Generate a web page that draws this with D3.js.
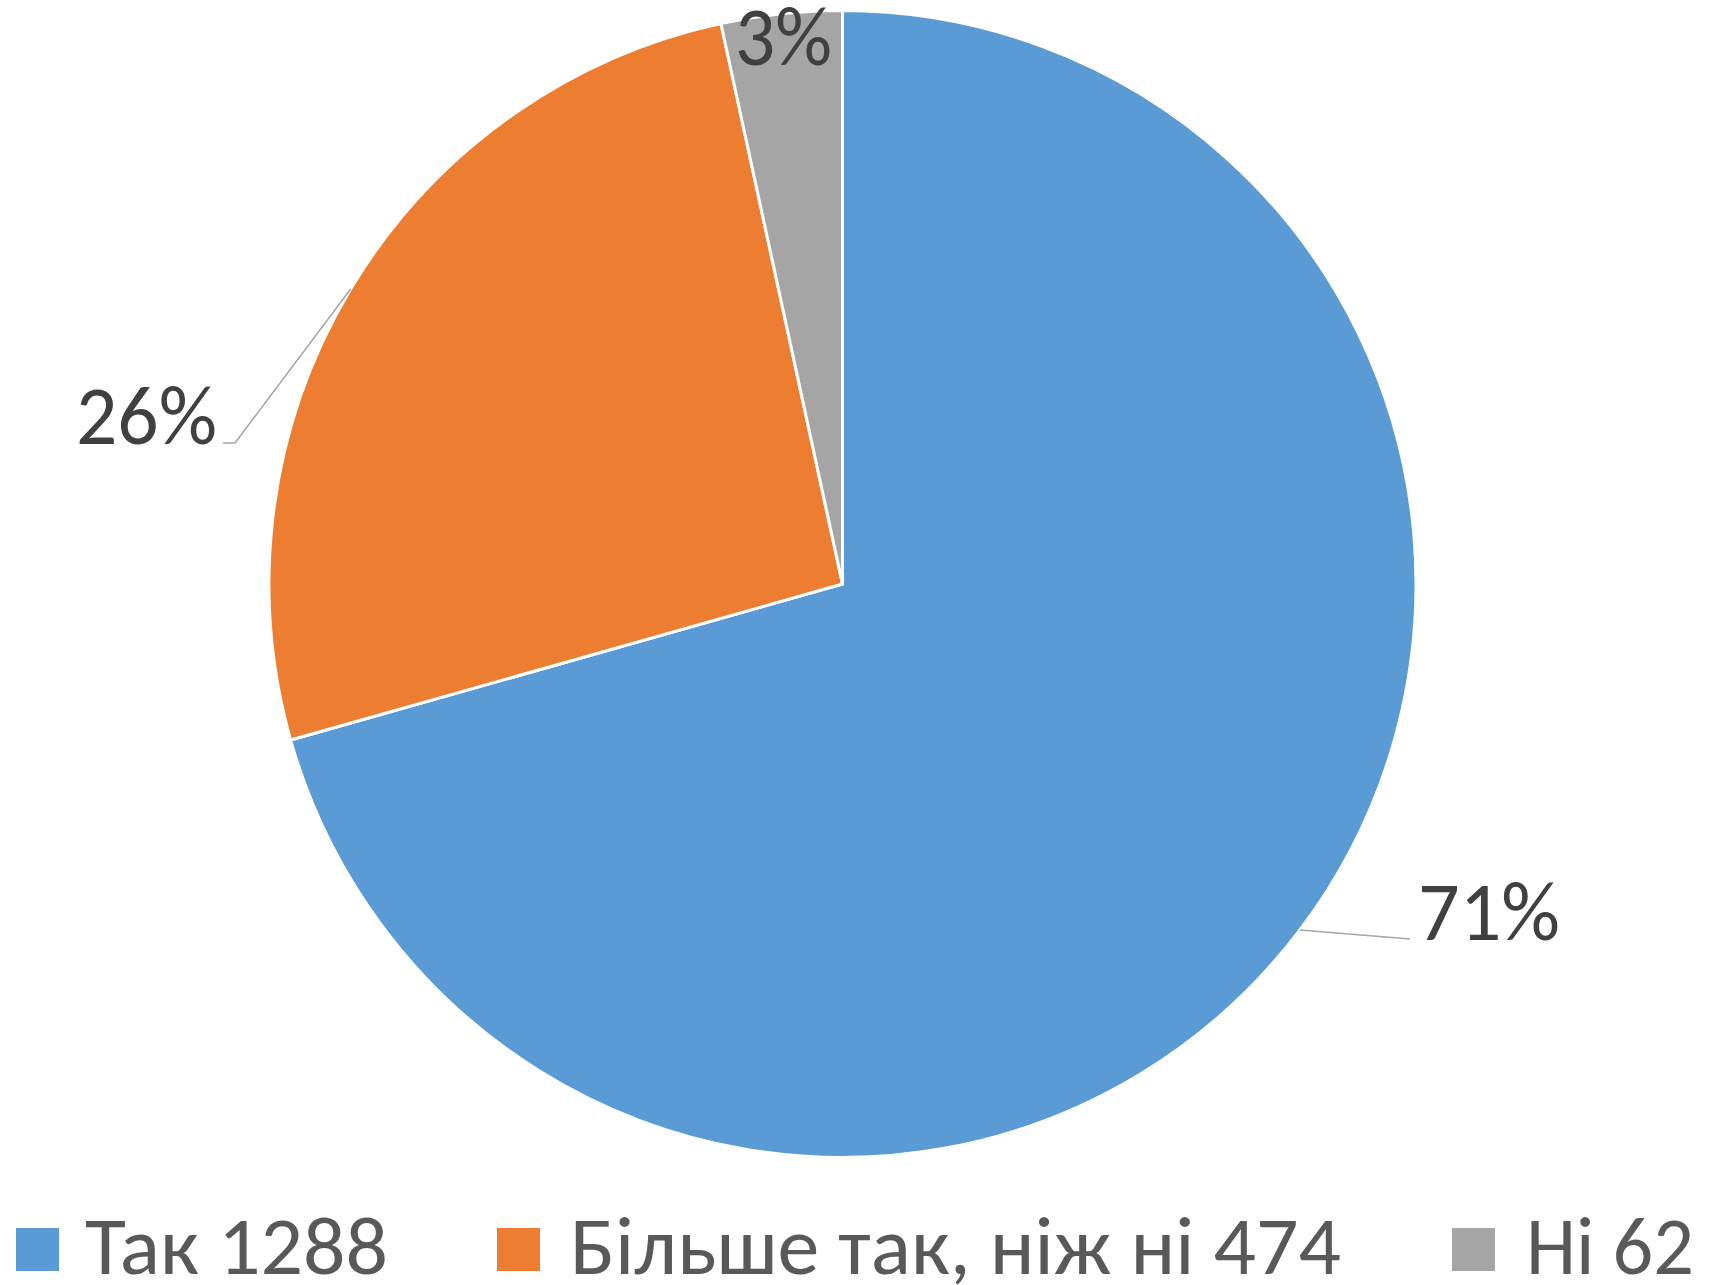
<!DOCTYPE html>
<html>
<head>
<meta charset="utf-8">
<script src="https://cdn.jsdelivr.net/npm/d3@7"></script>
<style>
  html, body { margin: 0; padding: 0; background: #ffffff; }
  svg { display: block; }
</style>
</head>
<body>
<svg id="chart" width="1709" height="1285"></svg>
<script>
// ---- data ----
const categories = ["Так", "Більше так, ніж ні", "Ні"];
const values = [1288, 474, 62];
const colors = ["#5B9BD5", "#ED7D31", "#A5A5A5"];

// ---- layout ----
const W = 1709, H = 1285;
const cx = 842.5, cy = 584, R = 573.5;
const FONT = "'Carlito', 'Noto Sans', 'Open Sans', sans-serif";

// label layout: x (anchor), baseline y, anchor, textLength, leader end
const labelLayout = [
  { x: 1418, y: 940, anchor: "start", len: 142, leader: [[1410, 939]] },
  { x: 217,  y: 444, anchor: "end",   len: 141, leader: [[235, 443], [223, 443]] },
  { x: 783.5, y: 65, anchor: "middle", len: 97,  leader: null }
];
const legendLayout = [
  { sx: 16,   tx: 85,   len: 303 },
  { sx: 497,  tx: 570,  len: 771 },
  { sx: 1452, tx: 1526, len: 168 }
];

const svg = d3.select("#chart");
const total = d3.sum(values);

const pie = d3.pie().sort(null).value(d => d)
  .startAngle(0).endAngle(2 * Math.PI);
const arcs = pie(values);
const arc = d3.arc().innerRadius(0).outerRadius(R);

const g = svg.append("g").attr("transform", `translate(${cx},${cy})`);
g.selectAll("path.slice")
  .data(arcs)
  .join("path")
  .attr("class", "slice")
  .attr("d", arc)
  .attr("fill", (d, i) => colors[i])
  .attr("stroke", "#ffffff")
  .attr("stroke-width", 3)
  .attr("stroke-linejoin", "round");

// leader lines
arcs.forEach((a, i) => {
  const L = labelLayout[i];
  if (!L.leader) return;
  const mid = (a.startAngle + a.endAngle) / 2;
  const p0 = [cx + R * Math.sin(mid), cy - R * Math.cos(mid)];
  const pts = [p0].concat(L.leader);
  svg.append("path")
    .attr("d", d3.line()(pts))
    .attr("fill", "none")
    .attr("stroke", "#A6A6A6")
    .attr("stroke-width", 1.5);
});

// percent labels
arcs.forEach((a, i) => {
  const L = labelLayout[i];
  const pct = Math.round(values[i] / total * 100) + "%";
  svg.append("text")
    .attr("x", L.x).attr("y", L.y)
    .attr("text-anchor", L.anchor)
    .attr("font-family", FONT)
    .attr("font-size", 85)
    .attr("fill", "#404040")
    .attr("textLength", L.len)
    .attr("lengthAdjust", "spacingAndGlyphs")
    .text(pct);
});

// legend
const legY = 1228, sq = 43, legBase = 1274;
categories.forEach((c, i) => {
  const L = legendLayout[i];
  svg.append("rect")
    .attr("x", L.sx).attr("y", legY)
    .attr("width", sq).attr("height", sq)
    .attr("fill", colors[i]);
  svg.append("text")
    .attr("x", L.tx).attr("y", legBase)
    .attr("font-family", FONT)
    .attr("font-size", 82)
    .attr("fill", "#595959")
    .attr("textLength", L.len)
    .attr("lengthAdjust", "spacingAndGlyphs")
    .text(c + " " + values[i]);
});
</script>
</body>
</html>
